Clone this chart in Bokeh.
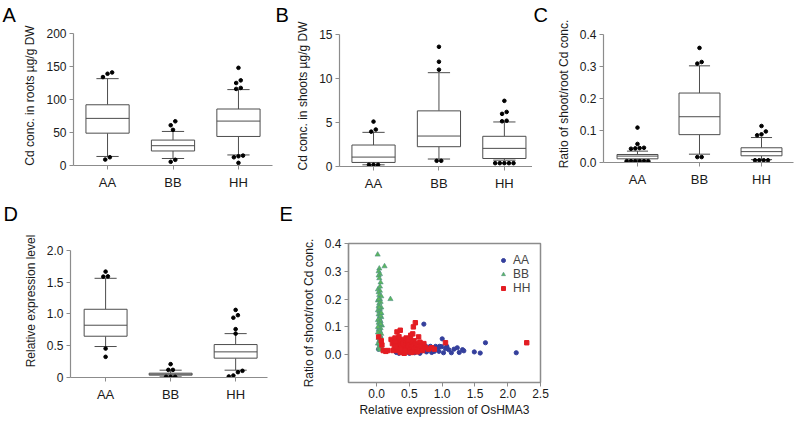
from bokeh.plotting import figure
from bokeh.layouts import row, column
from bokeh.models import FixedTicker, PrintfTickFormatter, Range1d, Title
from bokeh.embed import file_html
from bokeh.resources import INLINE

FONT = "Liberation Sans"
categories = ["AA", "BB", "HH"]

# box stats per category: [lower whisker, q1, median, q3, upper whisker]
roots_stats = [[13.7, 49, 71.4, 92, 131.6], [10.6, 22, 30, 38.5, 51.6], [16, 44, 67.3, 85.6, 115]]
roots_out = [[141, 139, 134, 12.5, 9], [67, 61, 54, 8.6, 5.6], [148, 129, 125, 117.5, 116, 15, 14, 12.5, 4]]

shoots_stats = [[0.19, 0.46, 1.07, 2.44, 3.88], [0.85, 2.25, 3.46, 6.32, 10.66], [0.72, 0.91, 2.06, 3.43, 5.06]]
shoots_out = [[5.1, 4.2, 3.96, 0.19, 0.19, 0.19],
              [13.6, 11.9, 11.0, 0.65, 0.65],
              [7.46, 6.2, 5.98, 5.2, 5.14, 0.38, 0.38, 0.38, 0.38, 0.38]]

ratio_stats = [[0.008, 0.0115, 0.02, 0.025, 0.0355], [0.026, 0.087, 0.143, 0.217, 0.302], [0.009, 0.021, 0.034, 0.046, 0.078]]
ratio_out = [[0.109, 0.058, 0.046, 0.045, 0.044, 0.043, 0.004, 0.004, 0.004, 0.004, 0.004, 0.004],
             [0.358, 0.314, 0.309, 0.017, 0.017],
             [0.114, 0.097, 0.088, 0.085, 0.007, 0.007, 0.007, 0.007]]

expr_stats = [[0.487, 0.649, 0.822, 1.073, 1.56], [0.01, 0.037, 0.052, 0.068, 0.115], [0.115, 0.304, 0.403, 0.518, 0.69]]
expr_out = [[1.665, 1.59, 1.586, 0.455, 0.325],
            [0.21, 0.12, 0.12, 0.01, 0.01, 0.01],
            [1.063, 0.98, 0.94, 0.76, 0.69, 0.105, 0.084, 0.031, 0.016]]

# scatter (relative expression, shoot/root ratio)
aa_points = [(0.72, 0.11), (1.0, 0.057), (1.66, 0.043), (2.13, 0.007), (1.58, 0.006), (1.49, 0.01),
             (1.31, 0.018), (1.33, 0.014), (1.26, 0.008), (1.23, 0.025), (1.14, 0.007), (1.10, 0.018),
             (1.07, 0.030), (1.02, 0.007), (0.99, 0.029), (0.96, 0.03), (0.93, 0.025), (0.90, 0.03),
             (0.88, 0.012), (0.86, 0.022), (0.84, 0.008), (0.82, 0.03), (0.80, 0.018), (0.78, 0.027),
             (0.76, 0.01), (0.74, 0.032), (0.70, 0.015), (0.68, 0.026), (0.66, 0.005), (0.62, 0.012),
             (0.58, 0.007), (0.54, 0.01), (0.50, 0.005), (0.46, 0.012), (0.42, 0.006), (0.38, 0.01),
             (0.34, 0.005), (0.30, 0.008), (1.05, 0.022), (0.95, 0.012), (1.18, 0.02), (0.03, 0.02),
             (0.05, 0.035), (0.06, 0.06), (0.04, 0.09), (0.05, 0.12)]
bb_points = [(0.015, 0.36), (0.12, 0.318), (0.04, 0.31), (0.03, 0.30), (0.05, 0.29), (0.03, 0.285),
             (0.04, 0.275), (0.06, 0.26), (0.21, 0.20), (0.02, 0.235), (0.05, 0.23), (0.03, 0.225),
             (0.04, 0.215), (0.07, 0.21), (0.05, 0.20), (0.02, 0.195), (0.06, 0.19), (0.04, 0.185),
             (0.03, 0.175), (0.07, 0.17), (0.05, 0.165), (0.02, 0.16), (0.04, 0.155), (0.06, 0.15),
             (0.03, 0.145), (0.05, 0.14), (0.07, 0.135), (0.04, 0.13), (0.02, 0.125), (0.06, 0.12),
             (0.03, 0.115), (0.05, 0.11), (0.08, 0.105), (0.04, 0.10), (0.06, 0.095), (0.03, 0.09),
             (0.05, 0.085), (0.02, 0.08), (0.07, 0.075), (0.04, 0.07), (0.06, 0.065), (0.03, 0.06),
             (0.05, 0.055), (0.04, 0.05), (0.07, 0.045), (0.02, 0.04), (0.05, 0.035), (0.06, 0.03),
             (0.03, 0.025), (0.08, 0.02), (0.04, 0.02), (0.05, 0.018), (0.06, 0.14), (0.03, 0.20),
             (0.05, 0.245), (0.04, 0.17), (0.06, 0.11), (0.02, 0.10), (0.07, 0.15), (0.04, 0.04)]
hh_points = [(0.03, 0.064), (0.59, 0.115), (0.56, 0.10), (0.31, 0.082), (0.36, 0.088), (0.55, 0.075),
             (0.64, 0.064), (0.52, 0.070), (0.08, 0.035), (0.10, 0.015), (0.17, 0.015), (0.14, 0.012),
             (0.07, 0.05), (0.22, 0.055), (0.24, 0.04), (0.26, 0.05), (0.27, 0.025), (0.28, 0.06),
             (0.30, 0.035), (0.31, 0.015), (0.32, 0.045), (0.33, 0.055), (0.34, 0.02), (0.35, 0.04),
             (0.36, 0.008), (0.37, 0.05), (0.38, 0.03), (0.39, 0.015), (0.40, 0.055), (0.41, 0.04),
             (0.42, 0.005), (0.43, 0.025), (0.44, 0.045), (0.45, 0.035), (0.46, 0.015), (0.47, 0.05),
             (0.48, 0.03), (0.49, 0.01), (0.50, 0.04), (0.51, 0.055), (0.52, 0.02), (0.53, 0.035),
             (0.54, 0.045), (0.55, 0.01), (0.56, 0.03), (0.57, 0.05), (0.58, 0.02), (0.60, 0.04),
             (0.61, 0.025), (0.62, 0.01), (0.63, 0.035), (0.65, 0.02), (0.66, 0.045), (0.68, 0.03),
             (0.70, 0.015), (0.72, 0.04), (0.75, 0.025), (0.79, 0.02), (0.84, 0.025), (0.88, 0.02),
             (1.05, 0.043), (2.29, 0.043), (0.25, 0.015), (0.29, 0.045), (0.34, 0.065), (0.40, 0.025),
             (0.45, 0.06), (0.29, 0.03), (0.37, 0.02), (0.43, 0.015), (0.48, 0.055), (0.53, 0.008)]

# axis extents
roots_axis = (0, 200)
shoots_axis = (0, 15)
ratio_axis = (0, 0.4)
expr_axis = (0, 2.0)
scat_x_axis = (-0.43, 2.5)
scat_y_axis = (-0.1, 0.4)

AXIS_C = "#8c8c8c"
BOX_C = "#4d4d4d"
TEXT_C = "#1a1a1a"


def style_axes(p):
    p.grid.visible = False
    for ax in p.axis:
        ax.axis_line_color = AXIS_C
        ax.axis_line_width = 1.2
        ax.major_tick_line_color = AXIS_C
        ax.minor_tick_line_color = None
        ax.major_tick_in = 0
        ax.major_tick_out = 4
        ax.major_label_text_font = FONT
        ax.major_label_text_font_size = "12px"
        ax.major_label_text_color = TEXT_C
        ax.axis_label_text_font = FONT
        ax.axis_label_text_font_size = "12px"
        ax.axis_label_text_font_style = "normal"
        ax.axis_label_text_color = TEXT_C


def make_fig(w, h, bl, br, bt, bb, xr, yr, letter, offset):
    p = figure(width=w, height=h, x_range=Range1d(*xr), y_range=Range1d(*yr),
               output_backend="svg", toolbar_location=None, title=letter,
               min_border_left=bl, min_border_right=br, min_border_top=bt, min_border_bottom=bb)
    p.frame_align = False
    p.outline_line_color = None
    p.title.text_font = FONT
    p.title.text_font_size = "20px"
    p.title.text_font_style = "normal"
    p.title.text_color = "black"
    p.title.align = "left"
    p.title.offset = offset
    p.title.standoff = 0
    style_axes(p)
    return p


def spread(vals, thresh, step):
    vals = sorted(vals)
    clusters, cur = [], [vals[0]]
    for v in vals[1:]:
        if v - cur[-1] <= thresh:
            cur.append(v)
        else:
            clusters.append(cur)
            cur = [v]
    clusters.append(cur)
    out = []
    for c in clusters:
        n = len(c)
        for i, v in enumerate(c):
            out.append(((i - (n - 1) / 2) * step, v))
    return out


def box_panel(p, stats, outs, thresh, ylabel, yticks, fmt, ybounds, overrides=None):
    xs = list(range(len(categories)))
    lo = [s[0] for s in stats]
    q1 = [s[1] for s in stats]
    md = [s[2] for s in stats]
    q3 = [s[3] for s in stats]
    hi = [s[4] for s in stats]
    bw, cw = 0.33, 0.17
    p.segment(x0=xs, y0=q3, x1=xs, y1=hi, line_color=BOX_C, line_width=1)
    p.segment(x0=xs, y0=q1, x1=xs, y1=lo, line_color=BOX_C, line_width=1)
    p.segment(x0=[x - cw for x in xs], y0=hi, x1=[x + cw for x in xs], y1=hi, line_color=BOX_C, line_width=1)
    p.segment(x0=[x - cw for x in xs], y0=lo, x1=[x + cw for x in xs], y1=lo, line_color=BOX_C, line_width=1)
    p.quad(left=[x - bw for x in xs], right=[x + bw for x in xs], bottom=q1, top=q3,
           fill_color="white", line_color=BOX_C, line_width=1)
    p.segment(x0=[x - bw for x in xs], y0=md, x1=[x + bw for x in xs], y1=md, line_color=BOX_C, line_width=1)
    ox, oy = [], []
    for x, vals in zip(xs, outs):
        for dx, v in spread(vals, thresh, 0.07):
            ox.append(x + dx)
            oy.append(v)
    p.scatter(ox, oy, size=3.6, marker="circle", fill_color="black", line_color="black")
    p.xaxis.ticker = FixedTicker(ticks=xs)
    p.xaxis.major_label_overrides = {x: c for x, c in zip(xs, categories)}
    p.xaxis.major_label_text_font_size = "13px"
    p.xaxis.major_label_standoff = 5
    p.yaxis.ticker = FixedTicker(ticks=yticks)
    p.yaxis.formatter = PrintfTickFormatter(format=fmt)
    p.yaxis.bounds = ybounds
    if overrides:
        p.yaxis.major_label_overrides = overrides
    p.yaxis.major_label_standoff = 3
    p.yaxis.axis_label = ylabel
    p.yaxis.axis_label_standoff = 6


# Panel A  (frame x 73..272, y 25..165; 200 sits at y=33)
pa = make_fig(273, 200, 73, 1, 25, 35, (-0.52, 2.52), (roots_axis[0], roots_axis[1] * 1.0606), "A", -71)
box_panel(pa, roots_stats, roots_out, 6, "Cd conc. in roots µg/g DW", [0, 50, 100, 150, 200], "%d", roots_axis)

# Panel B  (frame x 339..532, y 25..166; 15 sits at y=34)
pb = make_fig(259, 200, 66, 0, 25, 34, (-0.52, 2.43), (shoots_axis[0], shoots_axis[1] * 1.068), "B", -64)
box_panel(pb, shoots_stats, shoots_out, 0.45, "Cd conc. in shoots µg/g DW", [0, 5, 10, 15], "%d", shoots_axis)

# Panel C  (frame x 603..793, y 25..162; 0.4 sits at y=34)
pc = make_fig(264, 200, 71, 3, 25, 38, (-0.548, 2.516), (ratio_axis[0], ratio_axis[1] * 1.07), "C", -70)
box_panel(pc, ratio_stats, ratio_out, 0.012, "Ratio of shoot/root Cd conc.", [0, 0.1, 0.2, 0.3, 0.4], "%.1f",
          ratio_axis)

# Panel D  (frame x 70..267, y 223..377; 2.0 sits at y=249)
pd = make_fig(278, 222, 70, 11, 23, 45, (-0.54, 2.49), (expr_axis[0], expr_axis[1] * 1.203), "D", -67)
box_panel(pd, expr_stats, expr_out, 0.06, "Relative expression level", [0, 0.5, 1.0, 1.5, 2.0], "%.1f",
          expr_axis, overrides={0: "0"})

# Panel E  (frame = box x 348..540, y 243..382)
pe = make_fig(518, 222, 70, 256, 43, 40, scat_x_axis, scat_y_axis, "E", -69)
pe.outline_line_color = "#8c8c8c"
pe.outline_line_width = 1.5
# blank spacer title between the frame and the panel letter, lifting the letter
pe.add_layout(Title(text=" ", text_font=FONT, text_font_size="16px", standoff=0), "above")
pe.scatter([a[0] for a in aa_points], [a[1] for a in aa_points], marker="circle", size=4.2,
           fill_color="#343f9c", line_color="#343f9c", legend_label="AA")
pe.scatter([b[0] for b in bb_points], [b[1] for b in bb_points], marker="triangle", size=5.2,
           fill_color="#5cb85c", line_color="#4f8f86", line_width=0.6, legend_label="BB")
pe.scatter([h[0] for h in hh_points], [h[1] for h in hh_points], marker="square", size=4.4,
           fill_color="#e31d23", line_color="#e31d23", legend_label="HH")
pe.xaxis.ticker = FixedTicker(ticks=[0, 0.5, 1.0, 1.5, 2.0, 2.5])
pe.xaxis.formatter = PrintfTickFormatter(format="%.1f")
pe.yaxis.ticker = FixedTicker(ticks=[0, 0.1, 0.2, 0.3, 0.4])
pe.yaxis.formatter = PrintfTickFormatter(format="%.1f")
pe.xaxis.axis_label = "Relative expression of OsHMA3"
pe.yaxis.axis_label = "Ratio of shoot/root Cd conc."
pe.xaxis.major_label_standoff = 2
pe.xaxis.axis_label_standoff = 2
pe.yaxis.major_label_standoff = 3
pe.yaxis.axis_label_standoff = 6
lg = pe.legend[0]
lg.location = (150, 87)
lg.border_line_color = None
lg.background_fill_alpha = 0
lg.padding = 0
lg.margin = 0
lg.spacing = 0
lg.glyph_height = 12
lg.glyph_width = 10
lg.label_height = 12
lg.label_standoff = 5
lg.label_text_font = FONT
lg.label_text_font_size = "12px"

layout = column(row(pa, pb, pc), row(pd, pe))
open("out.html", "w").write(file_html(layout, INLINE))
